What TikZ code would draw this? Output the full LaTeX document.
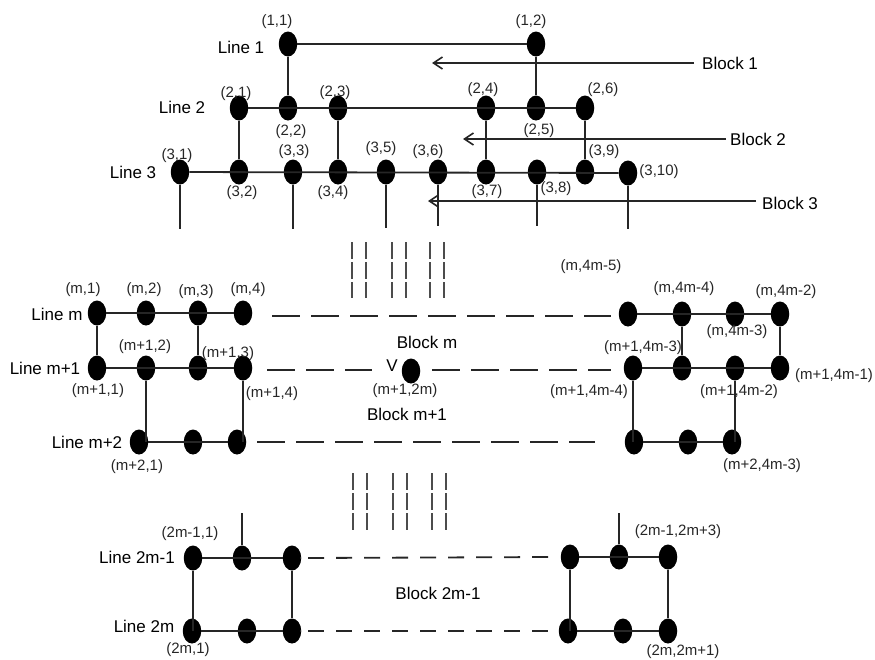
\documentclass[tikz,border=0pt]{standalone}
\usepackage{fontspec}
\setmainfont{Liberation Sans}
\usetikzlibrary{shapes.geometric,arrows.meta}
\begin{document}
\begin{tikzpicture}[x=1pt,y=-1pt,
  dot/.style={ellipse,fill=black,draw=none,minimum width=18.5pt,minimum height=25pt,inner sep=0pt},
  lbl/.style={font=\fontsize{15}{17}\selectfont,text=black!85,inner sep=0pt},
  ttl/.style={font=\fontsize{17}{19}\selectfont,inner sep=0pt},
  ln/.style={line width=1.8pt,black!85},
  blockarrow/.style={line width=1.8pt,black!85,-{Straight Barb[length=9pt,width=12pt,line width=1.6pt]}},
  longdash/.style={line width=1.8pt,black!85,dash pattern=on 28pt off 11pt},
  shortdash/.style={line width=1.8pt,black!85,dash pattern=on 16pt off 12pt},
  vdash/.style={line width=2pt,black!70,dash pattern=on 16.5pt off 3.5pt}]
\useasboundingbox (0,0) rectangle (875,659);

% ---------- top: lines 1-3 ----------
\node[dot] (a1) at (288,44) {};
\node[dot] (a2) at (536,44) {};
\node[dot] (b1) at (239,108) {};
\node[dot] (b2) at (288,108) {};
\node[dot] (b3) at (338,108) {};
\node[dot] (b4) at (486,108) {};
\node[dot] (b5) at (536,108) {};
\node[dot] (b6) at (585,108) {};
\node[dot] (c1) at (180,172) {};
\node[dot] (c2) at (239,172) {};
\node[dot] (c3) at (293,172) {};
\node[dot] (c4) at (338,172) {};
\node[dot] (c5) at (386,172) {};
\node[dot] (c6) at (438,172) {};
\node[dot] (c7) at (486,172) {};
\node[dot] (c8) at (537,172) {};
\node[dot] (c9) at (585,172) {};
\node[dot] (c10) at (628,173) {};

\draw[ln] (a1) -- (a2);
\draw[ln] (a1) -- (b2);
\draw[ln] (a2) -- (b5);
\draw[ln] (b1) -- (b6);
\draw[ln] (b1) -- (c2);
\draw[ln] (b3) -- (c4);
\draw[ln] (b4) -- (c7);
\draw[ln] (b6) -- (c9);
\draw[ln] (c1) -- (c10);

\coordinate (d1) at (180,229);
\coordinate (d3) at (293,229);
\coordinate (d5) at (386,228);
\coordinate (d6) at (438,226);
\coordinate (d8) at (537,226);
\coordinate (d10) at (628,229);
\draw[ln] (c1) -- (d1);
\draw[ln] (c3) -- (d3);
\draw[ln] (c5) -- (d5);
\draw[ln] (c6) -- (d6);
\draw[ln] (c8) -- (d8);
\draw[ln] (c10) -- (d10);

\node[ttl] (t1) at (241,47) {Line 1};
\node[ttl] (t2) at (182,107) {Line 2};
\node[ttl] (t3) at (133,172) {Line 3};

\node[lbl] at (277,22) {(1,1)};
\node[lbl] at (531,22) {(1,2)};
\node[lbl] at (236,94) {(2,1)};
\node[lbl] at (291,132) {(2,2)};
\node[lbl] at (335,93) {(2,3)};
\node[lbl] at (483,90) {(2,4)};
\node[lbl] at (539,131) {(2,5)};
\node[lbl] at (603,90) {(2,6)};
\node[lbl] at (177,156) {(3,1)};
\node[lbl] at (242,193) {(3,2)};
\node[lbl] at (294,152) {(3,3)};
\node[lbl] at (333,193) {(3,4)};
\node[lbl] at (381,149) {(3,5)};
\node[lbl] at (428,152) {(3,6)};
\node[lbl] at (487,192) {(3,7)};
\node[lbl] at (556,189) {(3,8)};
\node[lbl] at (604,152) {(3,9)};
\node[lbl] at (659,172) {(3,10)};

% block arrows
\node[ttl,anchor=west] (k1) at (702,63) {Block 1};
\node[ttl,anchor=west] (k2) at (730,139) {Block 2};
\node[ttl,anchor=west] (k3) at (762,203) {Block 3};
\coordinate (k1e) at (432,63);
\coordinate (k2e) at (463,139);
\coordinate (k3e) at (428,201);
\draw[blockarrow] (k1.west |- 0,63) ++(-8,0) -- (k1e);
\draw[blockarrow] (k2.west |- 0,139) ++(-4,0) -- (k2e);
\draw[blockarrow] (k3.west |- 0,201) ++(-6,0) -- (k3e);

% vertical dashed continuation marks
\foreach \x in {352,366,392,406,430,444} {
  \draw[vdash] (\x,242) -- (\x,298);
}
\foreach \x in {353,367,393,407,432,446} {
  \draw[vdash] (\x,473) -- (\x,530);
}

% ---------- middle: lines m, m+1, m+2 ----------
\node[dot] (m1) at (97,313) {};
\node[dot] (m2) at (146,313) {};
\node[dot] (m3) at (198,313) {};
\node[dot] (m4) at (243,313) {};
\node[dot] (n1) at (97,368) {};
\node[dot] (n2) at (146,368) {};
\node[dot] (n3) at (198,368) {};
\node[dot] (n4) at (243,368) {};
\node[dot] (p1) at (139,442) {};
\node[dot] (p2) at (193,442) {};
\node[dot] (p3) at (237,442) {};

\draw[ln] (m1) -- (m4);
\draw[ln] (n1) -- (n4);
\draw[ln] (p1) -- (p3);
\draw[ln] (m1) -- (n1);
\draw[ln] (m3) -- (n3);
\draw[ln] (n2) -- (n2 |- p1);
\draw[ln] (n4) -- (n4 |- p3);

\node[dot] (mr1) at (628,314) {};
\node[dot] (mr2) at (682,314) {};
\node[dot] (mr3) at (735,314) {};
\node[dot] (mr4) at (780,314) {};
\node[dot] (nr1) at (633,368) {};
\node[dot] (nr2) at (682,368) {};
\node[dot] (nr3) at (735,368) {};
\node[dot] (nr4) at (780,368) {};
\node[dot] (pr1) at (634,442) {};
\node[dot] (pr2) at (688,442) {};
\node[dot] (pr3) at (732,442) {};

\draw[ln] (mr1) -- (mr4);
\draw[ln] (nr1) -- (nr4);
\draw[ln] (pr1) -- (pr3);
\draw[ln] (mr2) -- (nr2);
\draw[ln] (mr4) -- (nr4);
\draw[ln] (nr1) -- (nr1 |- pr1);
\draw[ln] (nr3) -- (nr3 |- pr3);

\node[dot] (nv) at (411,371) {};

% dashed horizontals
\coordinate (hm1) at (272,316);
\coordinate (hm2) at (611,316);
\coordinate (hn1) at (267,370);
\coordinate (hn2) at (372,370);
\coordinate (hn3) at (432,370);
\coordinate (hn4) at (611,370);
\coordinate (hp1) at (257,442);
\coordinate (hp2) at (595,442);
\draw[longdash] (hm1) -- (hm2);
\draw[longdash] (hn1) -- (hn2);
\draw[longdash] (hn3) -- (hn4);
\draw[longdash] (hp1) -- (hp2);

\node[ttl] at (57,314) {Line m};
\node[ttl] at (45,368) {Line m+1};
\node[ttl] at (87,442) {Line m+2};

\node[lbl] at (83,290) {(m,1)};
\node[lbl] at (144,290) {(m,2)};
\node[lbl] at (196,292) {(m,3)};
\node[lbl] at (248,290) {(m,4)};
\node[lbl] at (145,347) {(m+1,2)};
\node[lbl] at (228,354) {(m+1,3)};
\node[lbl] at (98,391) {(m+1,1)};
\node[lbl] at (272,394) {(m+1,4)};
\node[lbl] at (137,467) {(m+2,1)};

\node[ttl] at (427,342) {Block m};
\node[ttl] at (392,366) {V};
\node[lbl] at (405,391) {(m+1,2m)};
\node[ttl] at (407,414) {Block m+1};

\node[lbl] at (591,267) {(m,4m-5)};
\node[lbl] at (684,289) {(m,4m-4)};
\node[lbl] at (786,292) {(m,4m-2)};
\node[lbl] at (737,332) {(m,4m-3)};
\node[lbl] at (643,348) {(m+1,4m-3)};
\node[lbl] at (589,392) {(m+1,4m-4)};
\node[lbl] at (739,392) {(m+1,4m-2)};
\node[lbl] at (834,376) {(m+1,4m-1)};
\node[lbl] at (762,466) {(m+2,4m-3)};

% ---------- bottom: lines 2m-1, 2m ----------
\node[dot] (q1) at (193,558) {};
\node[dot] (q2) at (242,558) {};
\node[dot] (q3) at (292,558) {};
\node[dot] (r1) at (192,631) {};
\node[dot] (r2) at (247,631) {};
\node[dot] (r3) at (292,631) {};
\node[dot] (qr1) at (570,557) {};
\node[dot] (qr2) at (619,557) {};
\node[dot] (qr3) at (668,557) {};
\node[dot] (rr1) at (568,631) {};
\node[dot] (rr2) at (623,631) {};
\node[dot] (rr3) at (668,631) {};

\draw[ln] (q1) -- (q3);
\draw[ln] (r1) -- (r3);
\draw[ln] (q1) -- (q1 |- r1);
\draw[ln] (q3) -- (r3);
\draw[ln] (qr1) -- (qr3);
\draw[ln] (rr1) -- (rr3);
\draw[ln] (qr1) -- (qr1 |- rr1);
\draw[ln] (qr3) -- (rr3);
\coordinate (uq) at (242,513);
\coordinate (uqr) at (619,513);
\draw[ln] (q2) -- (uq);
\draw[ln] (qr2) -- (uqr);

\coordinate (hq1) at (300,558);
\coordinate (hq2) at (552,557);
\coordinate (hr1) at (300,631);
\coordinate (hr2) at (558,631);
\draw[ln] (q3) -- (hq1);
\draw[ln] (r3) -- (hr1);
\draw[shortdash] (hq1) ++(8,0) -- (hq2);
\draw[shortdash] (hr1) ++(8,0) -- (hr2);

\node[ttl] at (137,557) {Line 2m-1};
\node[ttl] at (144,626) {Line 2m};
\node[lbl] at (190,534) {(2m-1,1)};
\node[lbl] at (188,650) {(2m,1)};
\node[ttl] at (438,593) {Block 2m-1};
\node[lbl] at (678,532) {(2m-1,2m+3)};
\node[lbl] at (683,652) {(2m,2m+1)};
\end{tikzpicture}
\end{document}
